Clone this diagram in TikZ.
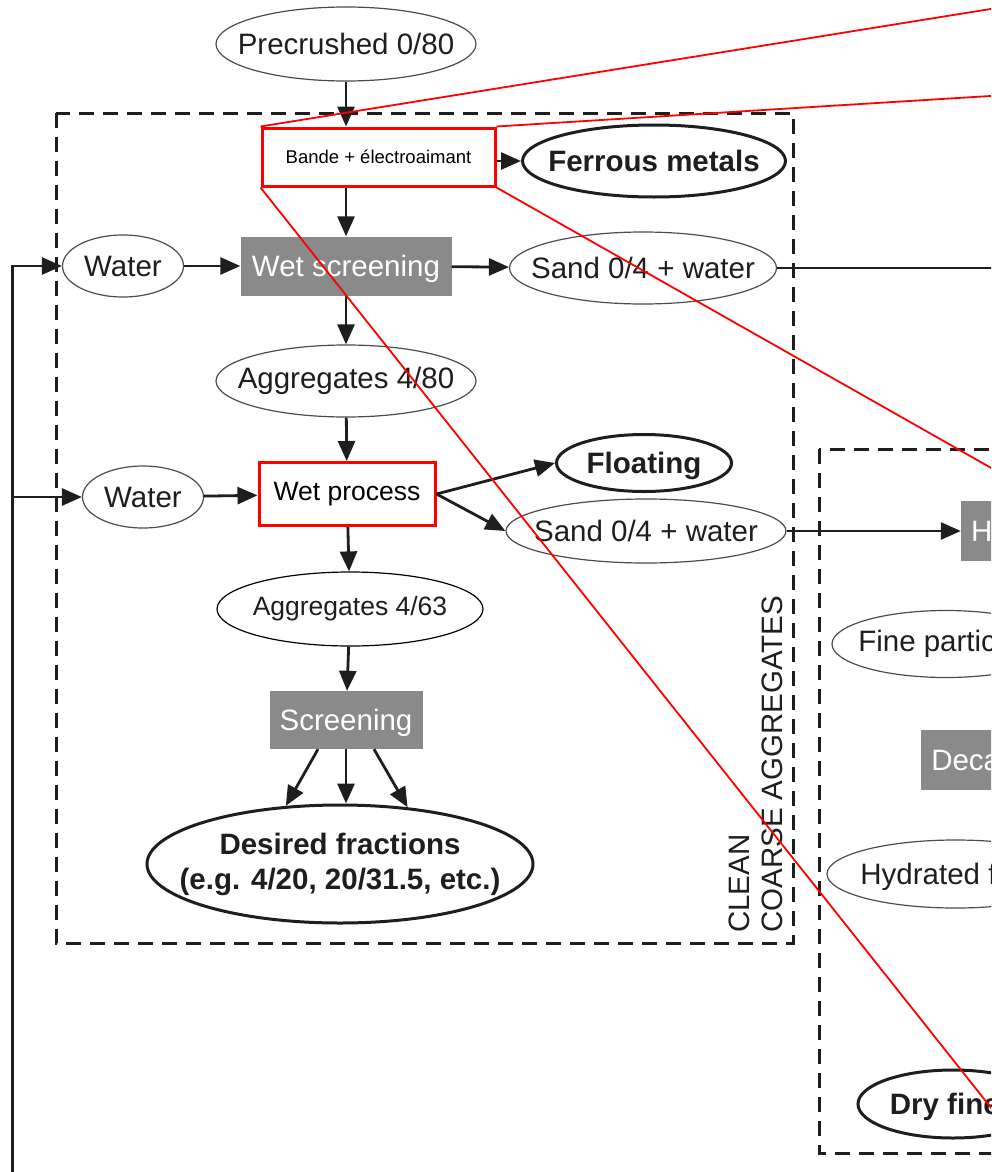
\documentclass[tikz,border=0pt]{standalone}
\usepackage{fontspec}
\setmainfont{Liberation Sans}
\usetikzlibrary{arrows.meta,shapes.geometric}
\newcommand{\inoval}[1]{\hbox to 0pt{\hss#1\hss}}
\definecolor{stagegray}{HTML}{8A8A8A}
\definecolor{ink}{HTML}{1E1E1E}
\definecolor{callred}{HTML}{FF0000}
\begin{document}
\begin{tikzpicture}[x=1pt, y=-1pt,
  font=\fontsize{29.5}{35}\selectfont,
  oval/.style={ellipse, draw=black!70, line width=1.2pt, inner sep=0pt, text=ink},
  goal/.style={ellipse, draw=ink, line width=3pt, inner sep=0pt, text=ink, text depth=0pt, font=\fontsize{29.5}{35}\selectfont\bfseries},
  stage/.style={rectangle, fill=stagegray, text=white, inner sep=0pt, text depth=0pt},
  redbox/.style={rectangle, draw=callred, line width=3pt, fill=white, text=black, inner sep=0pt},
  group/.style={draw=ink, line width=3pt, dash pattern=on 15pt off 9pt},
  flow/.style={draw=ink, line width=2.8pt, -{Triangle[length=20pt,width=17pt]}},
  link/.style={draw=ink, line width=2.8pt},
  callout/.style={draw=callred, line width=1.8pt}
]
\useasboundingbox (0,0) rectangle (991,1172);
\clip (0,0) rectangle (991,1172);

\draw[group] (56,113) rectangle (793,943);
\draw[group] (819,449) rectangle (1100,1153);

\node[oval, minimum width=260pt, minimum height=74pt] (pre) at (346,44) {\inoval{Precrushed 0/80}};
\node[redbox, minimum width=233pt, minimum height=58pt, font=\fontsize{18.5}{22}\selectfont] (bande) at (378.5,157) {Bande + électroaimant};
\node[goal, minimum width=263pt, minimum height=72pt] (ferrous) at (654,161) {\inoval{Ferrous metals}};
\node[oval, minimum width=121pt, minimum height=62pt] (water1) at (123,266) {\inoval{Water}};
\node[stage, minimum width=211pt, minimum height=59pt] (wetscr) at (346,266) {Wet screening};
\node[oval, minimum width=267pt, minimum height=72pt] (sand1) at (643,268) {\inoval{Sand 0/4 + water}};
\node[oval, minimum width=260pt, minimum height=72pt] (agg80) at (346,381) {\inoval{Aggregates 4/80}};
\node[oval, minimum width=121pt, minimum height=62pt] (water2) at (143,497) {\inoval{Water}};
\node[redbox, minimum width=176pt, minimum height=63pt, font=\fontsize{26.5}{32}\selectfont] (wetproc) at (347,494) {Wet process};
\node[goal, minimum width=175pt, minimum height=57pt] (floating) at (644,463) {\inoval{Floating}};
\node[oval, minimum width=280pt, minimum height=64pt] (sand2) at (646,531) {\inoval{Sand 0/4 + water}};
\node[oval, draw=black, minimum width=266pt, minimum height=74pt, font=\fontsize{26.5}{32}\selectfont] (agg63) at (350,609) {\inoval{Aggregates 4/63}};
\node[stage, minimum width=153pt, minimum height=58pt] (screen) at (346,720) {Screening};
\node[goal, text depth=27.6pt, minimum width=386pt, minimum height=118pt] (desired) at (340,864)
  {\inoval{\begin{tabular}{@{}c@{}}Desired fractions\\(e.g. 4/20, 20/31.5, etc.)\end{tabular}}};
\node[rotate=90, anchor=south west, align=left, inner sep=0pt, text=ink, font=\fontsize{29.5}{33}\selectfont] (cleantag) at (783,933) {CLEAN\\COARSE AGGREGATES};

\node[stage, minimum width=199pt, minimum height=60pt] (hydro) at (1060.5,531) {Hydrocyclone};
\node[oval, minimum width=228pt, minimum height=67pt] (fine) at (946,644) {\inoval{Fine particles}};
\node[stage, minimum width=178pt, minimum height=60pt] (decant) at (1010,760) {Decantation};
\node[oval, text depth=0pt, minimum width=257pt, minimum height=68pt] (hydrated) at (955.5,874) {\inoval{Hydrated fines}};
\node[goal, minimum width=190pt, minimum height=68pt] (dry) at (953,1104) {\inoval{Dry fines}};

\coordinate (rim) at (1000,0);
\coordinate (feed) at (12.5,1180);
\coordinate (tap) at (12.5,497);
\coordinate (zoomNW) at (1000,7.5);
\coordinate (zoomNE) at (1000,95.4);
\coordinate (zoomSE) at (1000,473);
\coordinate (zoomSW) at (1000,1119);

\draw[flow] (pre) -- (pre |- bande.north);
\draw[flow] (wetscr |- bande.south) -- (wetscr);
\draw[flow] (bande.east |- ferrous) -- (ferrous);
\draw[flow] (feed) |- (water1.west);
\draw[flow] (tap) -- (water2);
\draw[flow] (water1) -- (wetscr);
\draw[flow] (wetscr) -- (sand1);
\draw[link] (sand1) -- (sand1 -| rim);
\draw[flow] (wetscr) -- (agg80);
\draw[flow] (agg80) -- (wetproc);
\draw[flow] (water2) -- (wetproc);
\draw[flow] (wetproc.east) -- (floating.west);
\draw[flow] (wetproc.east) -- (sand2.west);
\draw[flow] (sand2) -- (hydro);
\draw[flow] (wetproc) -- (agg63);
\draw[flow] (agg63) -- (screen);
\draw[flow] ([xshift=-28pt]screen.south) -- (desired.133);
\draw[flow] (screen.south) -- (screen.south |- desired.north);
\draw[flow] ([xshift=28pt]screen.south) -- (desired.40);

\draw[callout] (bande.north west) -- (zoomNW);
\draw[callout] (bande.north east) -- (zoomNE);
\draw[callout] (bande.south east) -- (zoomSE);
\draw[callout] (bande.south west) -- (zoomSW);
\end{tikzpicture}
\end{document}
